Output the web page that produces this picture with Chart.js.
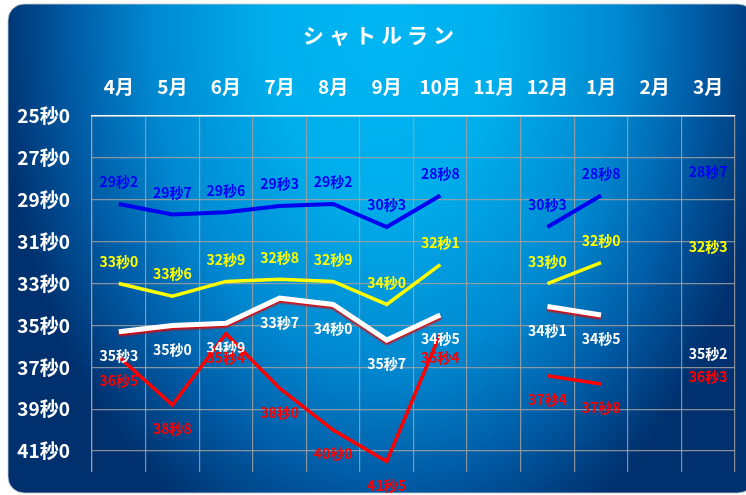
<!DOCTYPE html>
<html><head><meta charset="utf-8">
<script src="https://cdn.jsdelivr.net/npm/chart.js@4.4.1/dist/chart.umd.min.js"></script>
<style>html,body{margin:0;padding:0;background:#fff;} #wrap{width:746px;height:495px;}</style>
</head><body><div id="wrap"><canvas id="c" width="746" height="495"></canvas></div>
<script>
const titleText = 'シャトルラン';
const months = ['4月','5月','6月','7月','8月','9月','10月','11月','12月','1月','2月','3月'];
const yTicks = [25,27,29,31,33,35,37,39,41];
const blueSeries   = [29.2,29.7,29.6,29.3,29.2,30.3,28.8,null,30.3,28.8,null,28.7];
const yellowSeries = [33.0,33.6,32.9,32.8,32.9,34.0,32.1,null,33.0,32.0,null,32.3];
const whiteSeries  = [35.3,35.0,34.9,33.7,34.0,35.7,34.5,null,34.1,34.5,null,35.2];
const redSeries    = [36.5,38.8,35.4,38.0,40.0,41.5,35.4,null,37.4,37.8,null,36.3];

const FONT = '"Noto Sans CJK JP", "Noto Sans", sans-serif';
function fmt(v){ const s = Number(v).toFixed(1).split('.'); return s[0] + '秒' + s[1]; }

const bgPlugin = {
  id: 'bg',
  beforeDraw(chart) {
    const ctx = chart.ctx;
    ctx.save();
    const x0 = 8, y0 = 4, x1 = 754, y1 = 493, r = 16;
    ctx.beginPath();
    ctx.moveTo(x0 + r, y0);
    ctx.lineTo(x1 - r, y0);
    ctx.arcTo(x1, y0, x1, y0 + r, r);
    ctx.lineTo(x1, y1 - r);
    ctx.arcTo(x1, y1, x1 - r, y1, r);
    ctx.lineTo(x0 + r, y1);
    ctx.arcTo(x0, y1, x0, y1 - r, r);
    ctx.lineTo(x0, y0 + r);
    ctx.arcTo(x0, y0, x0 + r, y0, r);
    ctx.closePath();
    ctx.save();
    ctx.translate(385, 30);
    ctx.scale(1, 560 / 390);
    const g = ctx.createRadialGradient(0, 0, 0, 0, 0, 390);
    g.addColorStop(0, '#00B6F2');
    g.addColorStop(0.3, '#00AEEC');
    g.addColorStop(0.6, '#0088D0');
    g.addColorStop(0.8, '#005CA6');
    g.addColorStop(1, '#00306E');
    ctx.fillStyle = g;
    ctx.fill();
    ctx.restore();
    ctx.strokeStyle = 'rgba(200,205,210,0.8)';
    ctx.lineWidth = 1;
    ctx.stroke();
    ctx.restore();
  },
  afterDraw(chart) {
    const ctx = chart.ctx;
    ctx.save();
    ctx.fillStyle = '#FFFFFF';
    ctx.font = 'bold 21px ' + FONT;
    ctx.textAlign = 'center';
    ctx.textBaseline = 'middle';
    try { ctx.letterSpacing = '5px'; } catch (e) {}
    ctx.fillText(titleText, 381, 35);
    ctx.restore();
  }
};

const shadowPlugin = {
  id: 'shadow',
  beforeDatasetDraw(chart, args) {
    if (args.index === 2) {
      const ctx = chart.ctx;
      ctx.save();
      ctx.shadowColor = 'rgba(235,0,0,0.95)';
      ctx.shadowOffsetY = 2;
      ctx.shadowOffsetX = 0;
      ctx.shadowBlur = 2;
    }
  },
  afterDatasetDraw(chart, args) {
    if (args.index === 2) chart.ctx.restore();
  }
};

const labelPlugin = {
  id: 'vlabels',
  afterDatasetsDraw(chart) {
    const ctx = chart.ctx;
    ctx.save();
    ctx.font = 'bold 14px ' + FONT;
    ctx.textAlign = 'center';
    ctx.textBaseline = 'middle';
    chart.data.datasets.forEach((ds, i) => {
      const meta = chart.getDatasetMeta(i);
      ctx.fillStyle = ds.labelColor;
      meta.data.forEach((pt, j) => {
        const v = ds.data[j];
        if (v === null || v === undefined) return;
        ctx.fillText(fmt(v), pt.x, pt.y + ds.labelOffset);
      });
    });
    ctx.restore();
  }
};

new Chart(document.getElementById('c'), {
  type: 'line',
  data: {
    labels: months,
    datasets: [
      { data: blueSeries, borderColor: '#0000F0', borderWidth: 4, labelColor: '#0000F5', labelOffset: -22 },
      { data: yellowSeries, borderColor: '#FFFF00', borderWidth: 3.5, labelColor: '#FFFF00', labelOffset: -22 },
      { data: whiteSeries, borderColor: '#FFFFFF', borderWidth: 5, labelColor: '#FFFFFF', labelOffset: 24 },
      { data: redSeries, borderColor: '#FF0000', borderWidth: 3.5, labelColor: '#FF0000', labelOffset: 24 }
    ].map(d => Object.assign({ pointRadius: 0, pointHoverRadius: 0, tension: 0, fill: false, spanGaps: false, borderCapStyle: 'butt', borderJoinStyle: 'miter' }, d))
  },
  options: {
    responsive: false,
    animation: false,
    events: [],
    layout: { padding: { top: 46, right: 11, bottom: 23, left: 0 } },
    plugins: { legend: { display: false }, tooltip: { enabled: false }, title: { display: false } },
    scales: {
      x: {
        position: 'top',
        offset: true,
        grid: { offset: true, color: 'rgba(160,160,160,0.85)', lineWidth: 1.2, drawTicks: false },
        border: { color: '#FFFFFF', width: 1.5, z: 1 },
        ticks: { color: '#FFFFFF', font: { family: FONT, size: 19, weight: 'bold' }, padding: 18, maxRotation: 0, autoSkip: false },
        afterFit(s) { s.height = 70; s.paddingLeft = 0; s.paddingRight = 0; }
      },
      y: {
        reverse: true,
        min: 25,
        max: 42,
        afterBuildTicks(s) { s.ticks = yTicks.map(v => ({ value: v })); },
        grid: { color: 'rgba(160,160,160,0.85)', lineWidth: 1.2, drawTicks: false },
        border: { color: 'rgba(160,160,160,0.85)', width: 1.2 },
        ticks: { color: '#FFFFFF', font: { family: FONT, size: 19, weight: 'bold' }, padding: 22, callback: v => fmt(v) },
        afterFit(s) { s.width = 92; s.paddingTop = 0; s.paddingBottom = 0; }
      }
    }
  },
  plugins: [bgPlugin, shadowPlugin, labelPlugin]
});
</script>
</body></html>
